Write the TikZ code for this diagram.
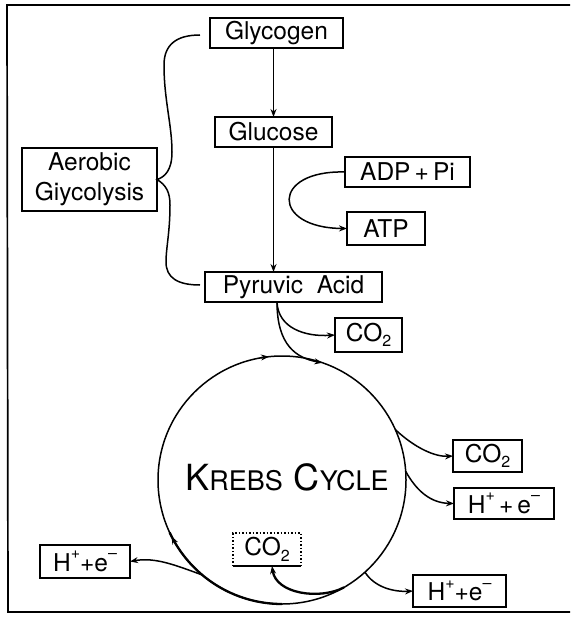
\documentclass[tikz,border=0pt]{standalone}
\usepackage{fontspec}
\setmainfont{TeX Gyre Heros}
\usetikzlibrary{arrows.meta}
\newcommand{\supx}[1]{\raisebox{0.5em}{\fontsize{16}{16}\selectfont #1}}
\newcommand{\subx}[1]{\raisebox{-0.22em}{\fontsize{16}{16}\selectfont #1}}
\begin{document}
\begin{tikzpicture}[x=1pt,y=-1pt,
  box/.style={draw, line width=1.5pt, inner sep=0pt, outer sep=0pt,
    font=\fontsize{24.5}{30}\selectfont, align=center},
  arr/.style={-{Stealth[length=8pt,width=6pt]}},
  ln/.style={line width=1.5pt},
  thick line/.style={line width=2.3pt}]
\useasboundingbox (0,0) rectangle (570,617);
% frame
\draw[line width=1.7pt] (570,5) -- (7,5) -- (8,612) -- (570,612);

% nodes
\node[box, minimum width=133pt, minimum height=30pt] (glycogen) at (276.5,33) {Glycogen};
\node[box, minimum width=117pt, minimum height=30pt] (glucose) at (273.5,132) {Glucose};
\node[box, minimum width=135pt, minimum height=63pt] (aer) at (89.5,179.5) {Aerobic\\Giycolysis};
\node[box, minimum width=125pt, minimum height=30pt] (adp) at (407.5,172) {ADP\,+\,Pi};
\node[box, minimum width=78pt, minimum height=33pt] (atp) at (386,228.5) {ATP};
\node[box, minimum width=177pt, minimum height=30pt] (pyr) at (293.5,287) {Pyruvic\ \ Acid};
\node[box, minimum width=67pt, minimum height=34pt] (co2a) at (368.5,335) {CO\subx{2}};
\node[box, minimum width=69pt, minimum height=32pt] (co2b) at (487.5,456) {CO\subx{2}};
\node[box, minimum width=100pt, minimum height=31pt] (hr) at (504,503.5) {H\supx{+}\,+\,e\supx{--}};
\node[box, minimum width=93pt, minimum height=32pt] (hb) at (459.5,591) {H\supx{+}+e\supx{--}};
\node[box, minimum width=90pt, minimum height=33pt] (hl) at (85,561.5) {H\supx{+}+e\supx{--}};
\node[box, draw=none, minimum width=68pt, minimum height=33pt] (co2c) at (267,549.5) {CO\subx{2}};
\draw[dotted, line width=1.5pt] (co2c.south west) -- (co2c.north west) -- (co2c.north east) -- (co2c.south east);
\draw[line width=1.7pt] (co2c.south west) -- (co2c.south east);

% Krebs cycle
\node[circle, draw, line width=1.5pt, minimum size=248pt, inner sep=0pt, outer sep=0pt] (krebs) at (282,480) {};
\node (ktext) at (287,477) {{\fontsize{36}{36}\selectfont K}{\fontsize{27}{27}\selectfont REBS}\hspace{11pt}{\fontsize{36}{36}\selectfont C}{\fontsize{27}{27}\selectfont YCLE}};
\draw[thick line] (krebs.-90) arc[start angle=-90, end angle=-155, radius=124pt];
\draw[ln, arr] (krebs.100) arc[start angle=100, end angle=96, radius=124pt];
\draw[ln, arr] (krebs.211) arc[start angle=211, end angle=207, radius=124pt];

% main chain
\draw[ln, arr] (glucose.north |- glycogen.south) -- (glucose.north);
\draw[ln, arr] (glucose.south) -- (glucose.south |- pyr.north);
\draw[ln, arr] (adp.west) .. controls (271,170) and (271,228) .. (atp.west);

% brace
\coordinate (bt) at (200,35);
\coordinate (bb) at (200,285);
\coordinate (tip) at (aer.east);
\draw[ln] (bt) .. controls (176,35) and (164,45) .. (164,65)
  .. controls (164,100) and (172,125) .. (172,152)
  .. controls (172,170) and (165,177) .. (tip)
  .. controls (166,185) and (170,192) .. (170,205)
  .. controls (170,232) and (166,248) .. (166,262)
  .. controls (166,278) and (178,285) .. (bb);

% from pyruvic acid
\coordinate (ps) at (277,302);
\draw[ln, arr] (ps) .. controls (278,328) and (305,337) .. (co2a.west);
\draw[ln, arr] (ps) .. controls (277,345) and (296,358) .. (krebs.71);

% outputs of the cycle
\draw[ln, arr] (krebs.24) .. controls (415,448) and (435,457) .. (co2b.west);
\draw[ln, arr] (krebs.4.5) .. controls (416,490) and (430,503) .. (hr.west);
\draw[ln, arr] (krebs.-48) .. controls (375,588) and (395,592) .. (hb.west);
\draw[thick line, arr] (krebs.-60) .. controls (320,600) and (276,594) .. (co2c.south -| 272,0);
\draw[ln, arr] (krebs.230) .. controls (175,565) and (155,557) .. (hl.east);
\end{tikzpicture}
\end{document}
